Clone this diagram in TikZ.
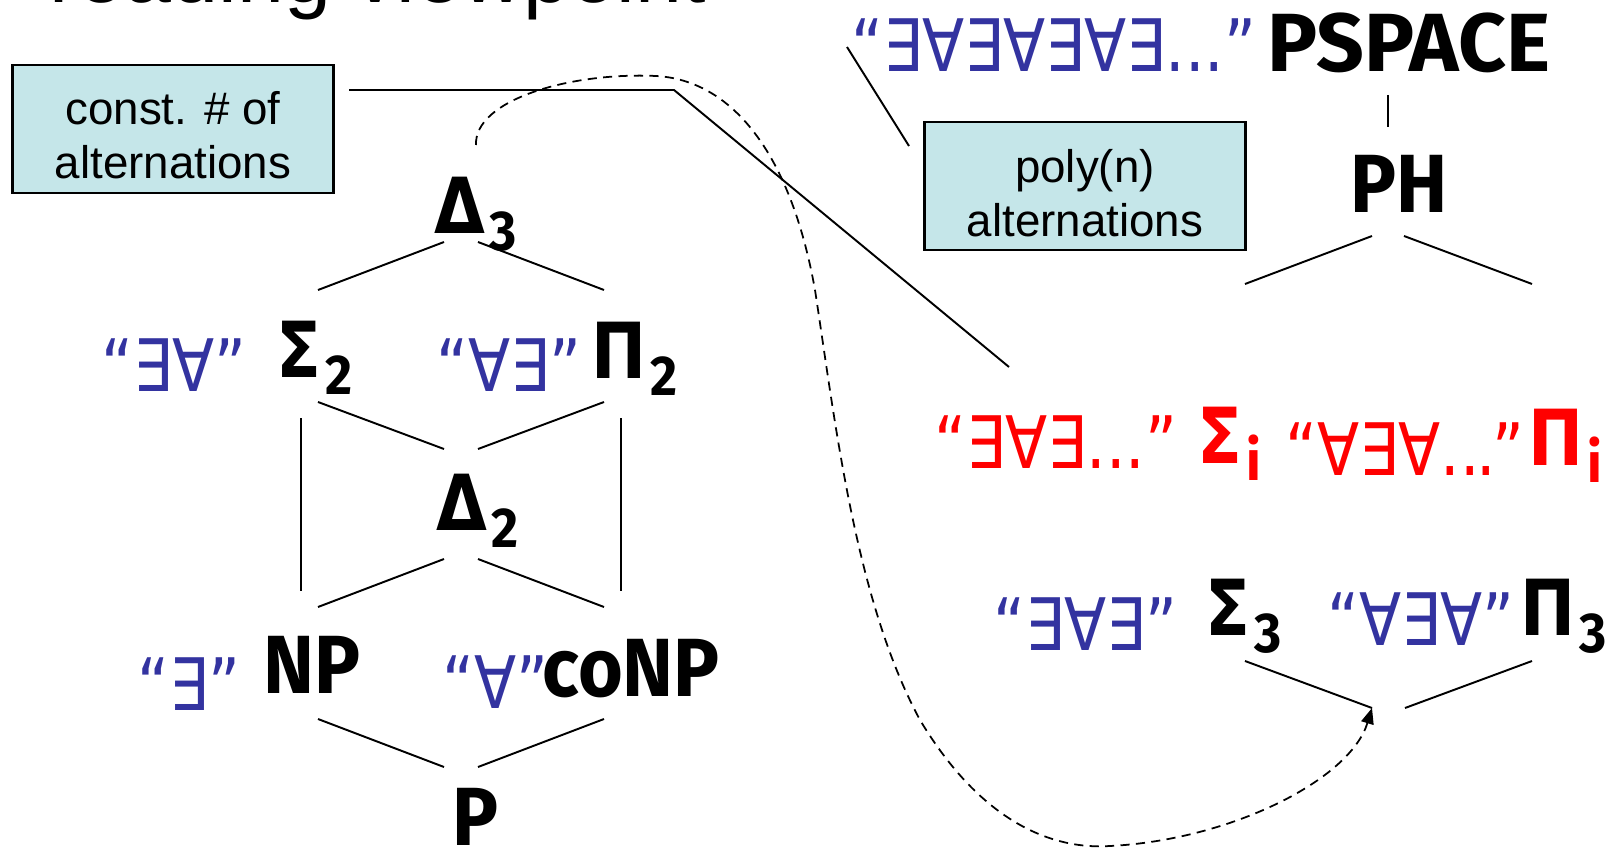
\documentclass[tikz,border=0pt]{standalone}
\usepackage{fontspec}
\usepackage{graphicx}
\setmainfont{Liberation Sans}
\newfontfamily\labfont{Fira Sans}[FakeStretch=0.93]
\newfontfamily\qfont{DejaVu Sans}[FakeStretch=0.85]
\newfontfamily\gfont{DejaVu Sans}[FakeStretch=0.85]
\usetikzlibrary{arrows.meta}
\definecolor{qblue}{RGB}{51,51,160}
\definecolor{qred}{RGB}{255,0,0}
\definecolor{boxfill}{RGB}{197,230,233}
\newcommand\lsub[1]{\kern1.2pt\raisebox{-5pt}{\labfont\bfseries\fontsize{16}{17}\selectfont #1}}
\begin{document}
\begin{tikzpicture}[x=0.1mm,y=-0.1mm,
  lab/.style={inner sep=0pt, anchor=base west, font=\labfont\bfseries\fontsize{23.5}{26}\selectfont},
  glab/.style={inner sep=0pt, anchor=base west, font=\gfont\bfseries\fontsize{22}{26}\selectfont},
  quant/.style={inner sep=0pt, anchor=base west, text=qblue, font=\qfont\fontsize{20.6}{24}\selectfont},
  redq/.style={quant, text=qred},
  note/.style={draw=black, line width=0.6pt, fill=boxfill, minimum width=32.1mm, minimum height=12.8mm, inner sep=0pt, align=center, font=\fontsize{13}{15.5}\selectfont},
  edge/.style={line width=0.55pt},
  dashedarrow/.style={line width=0.5pt, dash pattern=on 2.6pt off 1.8pt, -{Triangle[length=4.5pt,width=3.6pt]}}
]
\useasboundingbox (0,0) rectangle (1621,854);
\clip (0,0) rectangle (1621,854);

% title (cut off at top)
\node[anchor=base east, inner sep=0pt, font=\fontsize{24}{28}\selectfont] (title) at (707,3) {reading viewpoint};

% boxes
\node[note] (box1) at (173,129) {\rule{0pt}{13pt}const. \# of\\alternations};
\node[note] (box2) at (1085,186) {\rule{0pt}{13.5pt}poly(n)\\alternations};

% left lattice
\node[glab] (D3) at (434,233) {Δ\lsub{3}};
\node[quant] (qEA) at (101,391) {“∃∀”};
\node[glab] (S2) at (276,377) {Σ\lsub{2}};
\node[quant] (qAE) at (436,391) {“∀∃”};
\node[glab] (P2) at (591,378) {Π\lsub{2}};
\node[glab] (D2) at (436,530) {Δ\lsub{2}};
\node[quant] (qE) at (137,710) {“∃”};
\node[lab] (NP) at (263,693) {NP};
\node[quant] (qA) at (442,708) {“∀”};
\node[lab] (coNP) at (542,696) {coNP};
\node[lab] (P) at (452,845) {P};

% right hierarchy
\node[quant] (qlong) at (851,72) {“∃∀∃∀∃∀∃...”};
\node[lab] (PSPACE) at (1267,72) {\scalebox{1.09}[1]{PSPACE}};
\node[lab] (PH) at (1350,213) {PH};
\node[redq] (qri1) at (934,468) {“∃∀∃...”};
\node[glab, text=qred] (Si) at (1197,463) {Σ\lsub{i}};
\node[redq] (qri2) at (1285,475) {“∀∃∀..\kern-1pt.\kern-1pt”};
\node[glab, text=qred] (Pi) at (1528,465) {Π\lsub{i}};
\node[quant] (q3a) at (993,650) {“∃∀∃”};
\node[glab] (S3) at (1205,635) {Σ\lsub{3}};
\node[quant] (q3b) at (1327,645) {“∀∃∀”};
\node[glab] (P3) at (1520,635) {Π\lsub{3}};

% connector end points
\coordinate (d3l) at (444,242); \coordinate (s2t) at (318,290);
\coordinate (d3r) at (478,242); \coordinate (p2t) at (604,290);
\coordinate (s2b) at (318,402); \coordinate (d2tl) at (444,449);
\coordinate (p2b) at (604,402); \coordinate (d2tr) at (478,449);
\coordinate (vl1) at (301,418); \coordinate (vl2) at (301,591);
\coordinate (vr1) at (621,418); \coordinate (vr2) at (621,591);
\coordinate (d2bl) at (444,559); \coordinate (npt) at (318,607);
\coordinate (d2br) at (478,559); \coordinate (conpt) at (604,607);
\coordinate (npb) at (318,719); \coordinate (ptl) at (444,767);
\coordinate (conpb) at (604,719); \coordinate (ptr) at (478,767);
\coordinate (psb) at (1388,95); \coordinate (pht) at (1388,127);
\coordinate (phl) at (1372,236); \coordinate (phll) at (1245,284);
\coordinate (phr) at (1404,236); \coordinate (phrr) at (1532,284);
\coordinate (s3b) at (1245,661); \coordinate (apex) at (1372,708);
\coordinate (p3b) at (1532,661); \coordinate (apexr) at (1405,708);
\coordinate (b1a) at (349,90); \coordinate (b1k) at (674,90); \coordinate (b1e) at (1009,367);
\coordinate (b2a) at (909,146); \coordinate (b2e) at (847,47);
\coordinate (dstart) at (476,145);

% lattice edges
\draw[edge] (d3l) -- (s2t);
\draw[edge] (d3r) -- (p2t);
\draw[edge] (s2b) -- (d2tl);
\draw[edge] (p2b) -- (d2tr);
\draw[edge] (vl1) -- (vl2);
\draw[edge] (vr1) -- (vr2);
\draw[edge] (d2bl) -- (npt);
\draw[edge] (d2br) -- (conpt);
\draw[edge] (npb) -- (ptl);
\draw[edge] (conpb) -- (ptr);
\draw[edge] (psb) -- (pht);
\draw[edge] (phl) -- (phll);
\draw[edge] (phr) -- (phrr);
\draw[edge] (s3b) -- (apex);
\draw[edge] (p3b) -- (apexr);

% box pointers
\draw[edge] (b1a) -- (b1k) -- (b1e);
\draw[edge] (b2a) -- (b2e);

% dashed arrow
\draw[dashedarrow] (dstart) .. controls (474,100) and (570,72) .. (656,76)
  .. controls (730,80) and (790,150) .. (815,290)
  .. controls (835,420) and (855,600) .. (920,720)
  .. controls (980,820) and (1050,850) .. (1110,846)
  .. controls (1230,840) and (1350,780) .. (apex);
\end{tikzpicture}
\end{document}
